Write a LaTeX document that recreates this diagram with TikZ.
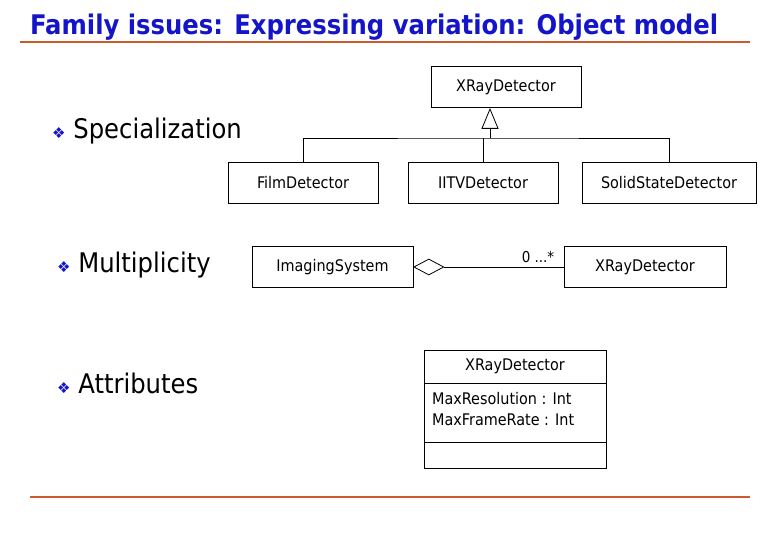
\documentclass[tikz,border=0pt]{standalone}
\usepackage{fontspec}
\setmainfont{DejaVu Sans Condensed}
\newfontfamily\symf{DejaVu Sans}
\usetikzlibrary{shapes.geometric}
\definecolor{tblue}{RGB}{20,20,200}
\definecolor{rule}{RGB}{205,90,45}
\begin{document}
\begin{tikzpicture}[x=1pt,y=-1pt,
  cls/.style={draw,thick,minimum height=41pt,font=\fontsize{16}{18}\selectfont,inner sep=0pt},
  bul/.style={anchor=west,font=\fontsize{27}{30}\selectfont,inner sep=0pt},
  ln/.style={thick}]
\useasboundingbox (0,0) rectangle (780,540);
\node[anchor=base west,inner sep=0pt,text=tblue,font=\fontsize{27}{30}\bfseries\selectfont] (title) at (30,35) {Family issues: Expressing variation: Object model};
\draw[rule,line width=1.5pt] (20,42) coordinate(r1) -- (750,42) coordinate(r2);
\draw[rule,line width=1.5pt] (30,497) coordinate(r3) -- (750,497) coordinate(r4);

\node[bul] (b1) at (52,131) {{\symf\textcolor{tblue}{\fontsize{15}{15}\selectfont ❖}}\ Specialization};
\node[bul] (b2) at (57,265) {{\symf\textcolor{tblue}{\fontsize{15}{15}\selectfont ❖}}\ Multiplicity};
\node[bul] (b3) at (57,383) {{\symf\textcolor{tblue}{\fontsize{15}{15}\selectfont ❖}}\ Attributes};

\node[cls,minimum width=150pt] (top) at (506,87) {XRayDetector};
\node[cls,minimum width=150pt] (film) at (303,183) {FilmDetector};
\node[cls,minimum width=150pt] (iitv) at (483,183) {IITVDetector};
\node[cls,minimum width=174pt] (solid) at (669,183) {SolidStateDetector};
\node[isosceles triangle,shape border rotate=90,draw,thick,fill=white,minimum width=16pt,minimum height=17pt,inner sep=0pt,anchor=apex] (tri) at (490,108) {};
\coordinate (j) at (490,138);
\draw[ln] (tri.south) -- (j);
\draw[ln] (film.north) |- (j) -| (solid.north);
\draw[ln] (iitv.north) -- (iitv.north |- j);

\node[cls,minimum width=161pt] (img) at (332.5,267) {ImagingSystem};
\node[cls,minimum width=162pt] (xr) at (645,267) {XRayDetector};
\node[diamond,draw,thick,minimum width=30pt,minimum height=16pt,inner sep=0pt,anchor=west] (dia) at (img.east) {};
\draw[ln] (dia.east) -- (xr.west);
\node[font=\fontsize{15}{16}\selectfont,anchor=base] (mult) at (538,263) {0 ...*};

\node[draw,thick,minimum width=182pt,minimum height=118pt,inner sep=0pt] (cls) at (515,409) {};
\node[font=\fontsize{16}{18}\selectfont,inner sep=0pt] (cn) at (515,366.5) {XRayDetector};
\draw[ln] (424,383) coordinate (d1) -- (606,383) coordinate (d2);
\draw[ln] (424,442) coordinate (d3) -- (606,442) coordinate (d4);
\node[anchor=north west,align=left,inner sep=0pt,font=\fontsize{16}{21}\selectfont] (at) at (432,392) {MaxResolution : Int\\MaxFrameRate : Int};
\end{tikzpicture}
\end{document}
